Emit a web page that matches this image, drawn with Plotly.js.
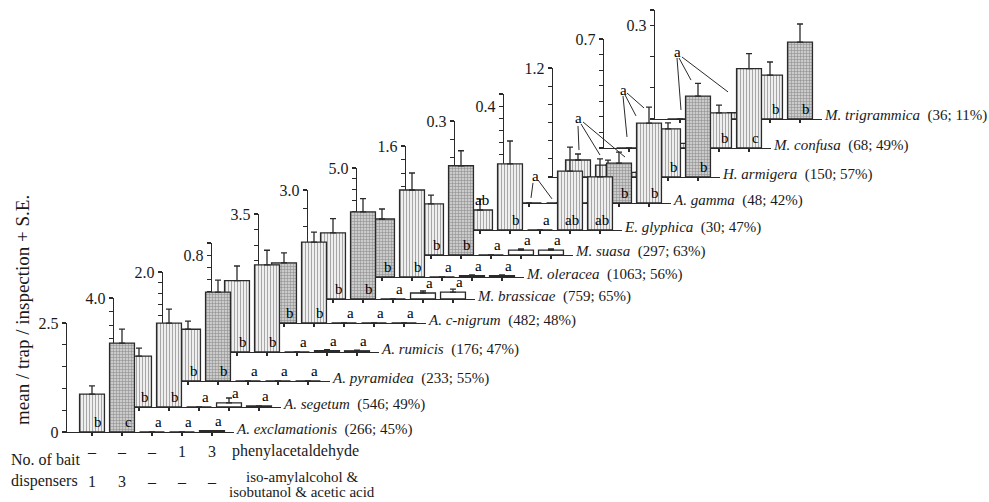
<!DOCTYPE html>
<html><head><meta charset="utf-8">
<script src="https://cdn.plot.ly/plotly-3.0.1.min.js"></script>
<style>html,body{margin:0;padding:0;background:#fff}#chart{width:989px;height:502px}</style>
</head><body><div id="chart"></div>
<script>
// ---------- data (panel 0 = front / lowest, 12 = back / highest) ----------
const treatments = ['AAA 1', 'AAA 3', 'control', 'PAA 1', 'PAA 3'];
const speciesNames = ['A. exclamationis','A. segetum','A. pyramidea','A. rumicis','A. c-nigrum',
  'M. brassicae','M. oleracea','M. suasa','E. glyphica','A. gamma','H. armigera','M. confusa','M. trigrammica'];
const speciesStats = ['(266; 45%)','(546; 49%)','(233; 55%)','(176; 47%)','(482; 48%)',
  '(759; 65%)','(1063; 56%)','(297; 63%)','(30; 47%)','(48; 42%)','(150; 57%)','(68; 49%)','(36; 11%)'];
const axisMax   = [2.5, 4.0, 2.0, 0.9, 3.5, 3.0, 5.0, 1.6, 0.3, 0.45, 1.2, 0.7, 0.35];
const axisLabel = [2.5, 4.0, 2.0, 0.8, 3.5, 3.0, 5.0, 1.6, 0.3, 0.4, 1.2, 0.7, 0.3];
const tickStep  = [0.5, 0.5, 0.2, 0.1, 0.5, 0.5, 0.5, 0.2, 0.05, 0.05, 0.2, 0.1, 0.1];

const meanAAA1 = [0.87, 1.87, 0.95, 0.59, 1.93, 1.82, 2.66, 0.75, 0.055, 0, 0.187, 0, 0];
const errAAA1  = [0.19, 0.29, 0.15, 0.12, 0.32, 0.39, 0.46, 0.13, 0.03, null, 0.066, null, null];
const meanAAA3 = [2.04, 3.08, 1.63, 0.72, 2.60, 2.40, 3.99, 1.31, 0.182, 0, 0.13, 0.03, 0.01];
const errAAA3  = [0.32, 0.51, 0.22, 0.12, 0.32, 0.36, 0.78, 0.22, 0.063, null, 0.055, null, null];
const meanCtrl = [0, 0, 0, 0, 0, 0, 0, 0, 0, 0, 0.05, 0.03, 0.02];
const errCtrl  = [null, null, null, null, null, null, null, null, null, null, null, null, null];
const meanPAA1 = [0, 0.15, 0, 0.012, 0, 0.165, 0.06, 0.073, 0.162, 0.165, 0.53, 0.225, 0.141];
const errPAA1  = [null, 0.18, null, 0.008, null, 0.055, 0.04, 0.015, 0.066, 0.045, 0.066, 0.05, 0.042];
const meanPAA3 = [0.03, 0.04, 0, 0.01, 0, 0.19, 0.06, 0.073, 0.146, 0.33, 0.89, 0.51, 0.247];
const errPAA3  = [null, null, null, 0.006, null, 0.08, 0.04, 0.015, 0.05, 0.066, 0.14, 0.096, 0.058];

const letAAA1 = ['b','b','b','b','b','b','b','b','ab','','','',''];
const letAAA3 = ['c','b','b','b','b','b','b','b','b','','','',''];
const letCtrl = ['a','a','a','a','a','a','a','a','a','','','',''];
const letPAA1 = ['a','a','a','a','a','a','a','a','ab','b','b','b','b'];
const letPAA3 = ['a','a','a','a','a','a','a','a','ab','b','b','c','b'];

const phenylRow = ['–','–','–','1','3'];
const aaaRow    = ['1','3','–','–','–'];

// ---------- layout / style ----------
const W = 989, H = 502;
const panelX = [67,114,163,212,259,308,357,406,455,504,553,604,655];
const baseY  = [432,407,381,352,323,299,277,255,230,203,177,148,119];
const panelW = 167, panelH = 109;
const xLo = -25/30, xHi = xLo + panelW/30;

const barStyle = [
 ['L','D','D','D','D'], ['L','L','L','W','D'], ['L','D','L','L','L'], ['L','L','L','D','D'],
 ['D','L','L','L','L'], ['L','D','L','W','W'], ['D','L','L','D','D'], ['L','D','L','W','W'],
 ['L','L','L','L','L'], ['L','L','L','D','L'], ['L','L','L','L','D'], ['L','L','L','L','L'],
 ['L','L','L','L','D']];
const styleDef = {
  L: {shape:'|', fg:'#a6a6a6', bg:'#efefef'},
  D: {shape:'+', fg:'#8c8c8c', bg:'#cbcbcb'},
  W: {shape:'',  fg:'#ffffff', bg:'#ffffff'}
};

// fan leader lines ("a" shared by the first three bars), in panel data units
const fanPanels = [9, 10, 11, 12];
const fanLabel = [[0.2, 0.111], [0.0, 0.65], [-0.2, 0.372], [-0.1, 0.215]];
const fanLines = [
  [[0.133,0.083,0.067,0.021],[0.30,0.095,0.767,0.017]],
  [[0.0,0.562,0.033,0.297],[0.1,0.584,0.733,0.242],[0.167,0.606,1.567,0.22]],
  [[-0.2,0.334,-0.067,0.071],[-0.133,0.341,0.233,0.206],[-0.067,0.353,0.5,0.257]],
  [[-0.1,0.196,0.033,0.029],[-0.033,0.196,0.367,0.125],[0.067,0.199,1.6,0.087]]
];

const FONT = 'Times New Roman, Liberation Serif, serif';
const INK = '#1a1a1a';
const traces = [], annotations = [], shapes = [];
const layout = {
  width: W, height: H, margin: {l:0, r:0, t:0, b:0},
  paper_bgcolor: '#fff', plot_bgcolor: 'rgba(0,0,0,0)',
  showlegend: false, font: {family: FONT, color: INK, size: 15},
  barmode: 'overlay'
};

function axNum(i) { return 13 - i; }          // front panel = highest subplot number (drawn last)
function xid(n) { return n === 1 ? 'x' : 'x' + n; }
function yid(n) { return n === 1 ? 'y' : 'y' + n; }
function txt(extra) { return Object.assign({showarrow: false, xanchor: 'center', yanchor: 'middle',
  font: {family: FONT, size: 16, color: INK}}, extra); }

for (let i = 12; i >= 0; i--) {
  const n = axNum(i);
  const means = [meanAAA1[i], meanAAA3[i], meanCtrl[i], meanPAA1[i], meanPAA3[i]];
  const errs  = [errAAA1[i], errAAA3[i], errCtrl[i], errPAA1[i], errPAA3[i]];
  const lets  = [letAAA1[i], letAAA3[i], letCtrl[i], letPAA1[i], letPAA3[i]];
  const st = barStyle[i].map(k => styleDef[k]);
  // opaque base so that bars hide the panels behind them
  traces.push({
    type: 'bar', x: [0,1,2,3,4], y: means, width: 0.83,
    xaxis: xid(n), yaxis: yid(n), hoverinfo: 'skip',
    marker: {color: st.map(s => s.bg), line: {width: 0}}
  });
  // hatch texture + outline + error bars
  traces.push({
    type: 'bar', x: [0,1,2,3,4], y: means, width: 0.83,
    xaxis: xid(n), yaxis: yid(n), hoverinfo: 'skip',
    marker: {
      color: 'rgba(0,0,0,0)',
      line: {color: '#2a2a2a', width: 1.3},
      pattern: {shape: st.map(s => s.shape), fgcolor: st.map(s => s.fg),
                bgcolor: 'rgba(0,0,0,0)', size: 3, solidity: 0.33}
    },
    error_y: {type: 'data', symmetric: false, array: errs, arrayminus: errs.map(() => 0),
              color: '#2a2a2a', thickness: 1.3, width: 3}
  });

  const x0 = panelX[i], yb = baseY[i];
  const ticks = [];
  for (let k = 0; k * tickStep[i] <= axisMax[i] + 1e-9; k++) ticks.push(+(k * tickStep[i]).toFixed(3));
  if (Math.abs(ticks[ticks.length-1] - axisMax[i]) > 1e-6) ticks.push(axisMax[i]);
  const ttext = ticks.map(v => Math.abs(v - axisLabel[i]) < 1e-6 ? axisLabel[i].toFixed(1) : (v === 0 && i === 0 ? '0' : ''));

  layout['xaxis' + (n === 1 ? '' : n)] = {
    domain: [x0 / W, (x0 + panelW) / W], anchor: yid(n), range: [xLo, xHi],
    showline: true, linecolor: '#2a2a2a', linewidth: 1.4, ticks: 'outside', ticklen: 3, tickwidth: 1.1,
    tickcolor: '#2a2a2a', tickvals: [0,1,2,3,4], showticklabels: false, showgrid: false, zeroline: false,
    fixedrange: true
  };
  layout['yaxis' + (n === 1 ? '' : n)] = {
    domain: [1 - yb / H, 1 - (yb - panelH) / H], anchor: xid(n), range: [0, axisMax[i]],
    showline: true, linecolor: '#2a2a2a', linewidth: 1.4, ticks: 'outside', ticklen: 4, tickwidth: 1.1,
    tickcolor: '#2a2a2a', tickvals: ticks, ticktext: ttext, showgrid: false, zeroline: false,
    tickfont: {family: FONT, size: 16, color: INK}, fixedrange: true
  };

  // significance letters
  lets.forEach((t, j) => {
    if (!t) return;
    const small = means[j] < 0.25 * axisMax[i];
    annotations.push(txt({
      xref: xid(n), yref: yid(n), x: j + (t.length > 1 ? 0.07 : 0.2), y: small ? means[j] : 0,
      text: t, yanchor: 'bottom', font: {family: FONT, size: 15, color: '#000'}
    }));
  });

  // species label
  annotations.push(txt({
    xref: xid(n), yref: yid(n), x: xHi, y: 0, xanchor: 'left', yshift: 3, xshift: 0,
    text: '<i>' + speciesNames[i] + '</i>\u00a0\u00a0' + speciesStats[i],
    font: {family: FONT, size: 15, color: INK}
  }));
}

// fan letters and leader lines
fanPanels.forEach((i, f) => {
  const n = axNum(i);
  annotations.push(txt({xref: xid(n), yref: yid(n), x: fanLabel[f][0], y: fanLabel[f][1], text: 'a',
    font: {family: FONT, size: 15, color: '#000'}}));
  fanLines[f].forEach(L => shapes.push({type: 'line', xref: xid(n), yref: yid(n),
    x0: L[0], y0: L[1], x1: L[2], y1: L[3], line: {color: '#2a2a2a', width: 1}, layer: 'above'}));
});

// bait dispenser table (columns aligned with the front panel's bars)
const nFront = axNum(0);
phenylRow.forEach((t, j) => annotations.push(txt({xref: xid(nFront), yref: 'paper', x: j, y: 1 - 451 / H, text: t})));
aaaRow.forEach((t, j) => annotations.push(txt({xref: xid(nFront), yref: 'paper', x: j, y: 1 - 481 / H, text: t})));
annotations.push(txt({xref: 'paper', yref: 'paper', x: 230 / W, y: 1 - 451 / H, xanchor: 'left', text: 'phenylacetaldehyde'}));
annotations.push(txt({xref: 'paper', yref: 'paper', x: 302 / W, y: 1 - 477 / H, text: 'iso-amylalcohol &amp;', font: {family: FONT, size: 15, color: INK}}));
annotations.push(txt({xref: 'paper', yref: 'paper', x: 302 / W, y: 1 - 492 / H, text: 'isobutanol &amp; acetic acid', font: {family: FONT, size: 15, color: INK}}));
annotations.push(txt({xref: 'paper', yref: 'paper', x: 9 / W, y: 1 - 459 / H, xanchor: 'left', text: 'No. of bait'}));
annotations.push(txt({xref: 'paper', yref: 'paper', x: 9 / W, y: 1 - 481 / H, xanchor: 'left', text: 'dispensers'}));
// y title
annotations.push(txt({xref: 'paper', yref: 'paper', x: 22 / W, y: 1 - 310 / H, textangle: -90,
  text: 'mean / trap / inspection + S.E.', font: {family: FONT, size: 19, color: INK}}));

layout.annotations = annotations;
layout.shapes = shapes;
Plotly.newPlot('chart', traces, layout, {staticPlot: true, displayModeBar: false});
</script>
</body></html>
